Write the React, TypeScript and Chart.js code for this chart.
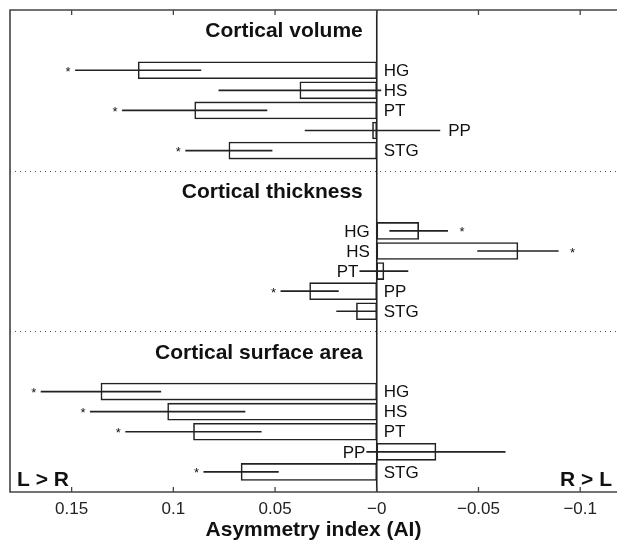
import React, { useEffect, useRef } from 'react';
import { Chart, registerables } from 'chart.js';

Chart.register(...registerables);

const groups = ['Cortical volume', 'Cortical thickness', 'Cortical surface area'];
const regions = ['HG', 'HS', 'PT', 'PP', 'STG'];

const volumeAI = [0.1173, 0.0378, 0.0895, 0.0021, 0.0727];
const volumeErr = [0.031, 0.04, 0.0357, 0.0333, 0.0214];
const volumeSig = [true, false, true, false, true];

const thicknessAI = [-0.0206, -0.0694, -0.0035, 0.033, 0.01];
const thicknessErr = [0.0144, 0.02, 0.012, 0.0143, 0.0099];
const thicknessSig = [true, true, false, true, false];

const surfaceAI = [0.1356, 0.1028, 0.0901, -0.0291, 0.0667];
const surfaceErr = [0.0296, 0.0382, 0.0335, 0.0342, 0.0185];
const surfaceSig = [true, true, true, false, true];

const xTicks = [0.15, 0.1, 0.05, 0, -0.05, -0.1];
const xTickLabels = ['0.15', '0.1', '0.05', '\u22120', '\u22120.05', '\u22120.1'];
const xMin = -0.1181;
const xMax = 0.1803;
const axisTitle = 'Asymmetry index (AI)';
const leftNote = 'L > R';
const rightNote = 'R > L';

const groupValues = [volumeAI, thicknessAI, surfaceAI];
const groupErrs = [volumeErr, thicknessErr, surfaceErr];
const groupSigs = [volumeSig, thicknessSig, surfaceSig];

const FONT = '"Liberation Sans", Arial, Helvetica, sans-serif';
const INK = '#222222';

export default function App() {
  const ref = useRef<HTMLCanvasElement | null>(null);

  useEffect(() => {
    if (!ref.current) return;
    const points: { x: number; y: number }[] = [];
    const meta: { v: number; e: number; sig: boolean; label: string; pos: number }[] = [];
    groupValues.forEach((vals, g) => {
      vals.forEach((v, i) => {
        const pos = g * 8 + 3 + i;
        points.push({ x: v, y: pos });
        meta.push({ v, e: groupErrs[g][i], sig: groupSigs[g][i], label: regions[i], pos });
      });
    });

    const overlay = {
      id: 'overlay',
      afterDatasetsDraw(chart: any) {
        const ctx = chart.ctx as CanvasRenderingContext2D;
        const xs = chart.scales.x;
        const ys = chart.scales.y;
        const ca = chart.chartArea;
        const zero = xs.getPixelForValue(0);
        ctx.save();

        // separators
        ctx.strokeStyle = '#555';
        ctx.lineWidth = 1;
        ctx.setLineDash([1, 4]);
        [8, 16].forEach((p) => {
          const y = Math.round(ys.getPixelForValue(p)) + 0.5;
          ctx.beginPath();
          ctx.moveTo(ca.left, y);
          ctx.lineTo(ca.right, y);
          ctx.stroke();
        });
        ctx.setLineDash([]);

        // zero line
        ctx.strokeStyle = INK;
        ctx.lineWidth = 1.6;
        ctx.beginPath();
        ctx.moveTo(zero, ca.top);
        ctx.lineTo(zero, ca.bottom);
        ctx.stroke();

        // error bars, stars, labels
        meta.forEach((m) => {
          const y = ys.getPixelForValue(m.pos);
          const lo = xs.getPixelForValue(m.v + m.e); // left end (larger value)
          const hi = xs.getPixelForValue(m.v - m.e); // right end
          ctx.strokeStyle = INK;
          ctx.lineWidth = 1.6;
          ctx.beginPath();
          ctx.moveTo(lo, y);
          ctx.lineTo(hi, y);
          ctx.stroke();

          ctx.fillStyle = '#111';
          if (m.sig) {
            ctx.font = `13px ${FONT}`;
            ctx.textAlign = 'center';
            ctx.textBaseline = 'middle';
            const sx = m.v >= 0 ? lo - 7 : hi + 14;
            ctx.fillText('*', sx, y + 2);
          }

          ctx.font = `17px ${FONT}`;
          ctx.textBaseline = 'middle';
          if (m.v >= 0) {
            ctx.textAlign = 'left';
            const end = m.v - m.e;
            const lx = end < -0.004 ? hi + 8 : zero + 7;
            ctx.fillText(m.label, lx, y + 1);
          } else {
            ctx.textAlign = 'right';
            const end = m.v + m.e;
            const lx = end > 0.004 ? lo - 1 : zero - 7;
            ctx.fillText(m.label, lx, y + 1);
          }
        });

        // group titles
        ctx.font = `bold 21px ${FONT}`;
        ctx.textAlign = 'right';
        ctx.textBaseline = 'middle';
        ctx.fillStyle = '#111';
        groups.forEach((t, g) => {
          ctx.fillText(t, zero - 14, ys.getPixelForValue(g * 8 + 1.07));
        });

        // frame
        ctx.strokeStyle = '#444';
        ctx.lineWidth = 1.6;
        ctx.beginPath();
        ctx.moveTo(ca.right, ca.top);
        ctx.lineTo(ca.left, ca.top);
        ctx.lineTo(ca.left, ca.bottom);
        ctx.lineTo(ca.right, ca.bottom);
        ctx.stroke();

        // inward ticks
        ctx.lineWidth = 1.3;
        xTicks.forEach((t) => {
          const px = xs.getPixelForValue(t);
          ctx.beginPath();
          ctx.moveTo(px, ca.top);
          ctx.lineTo(px, ca.top + 5);
          ctx.moveTo(px, ca.bottom);
          ctx.lineTo(px, ca.bottom - 5);
          ctx.stroke();
        });

        // direction notes
        ctx.font = `bold 21px ${FONT}`;
        ctx.textBaseline = 'middle';
        ctx.textAlign = 'left';
        ctx.fillText(leftNote, ca.left + 7, ca.bottom - 12);
        ctx.textAlign = 'right';
        ctx.fillText(rightNote, ca.right - 5, ca.bottom - 12);
        ctx.restore();
      },
    };

    const chart = new Chart(ref.current, {
      type: 'bar',
      data: {
        datasets: [
          {
            data: points,
            backgroundColor: '#ffffff',
            borderColor: INK,
            borderWidth: 1.6,
            borderSkipped: false,
            barThickness: 17,
          } as any,
        ],
      },
      options: {
        indexAxis: 'y',
        animation: false,
        responsive: false,
        layout: { padding: { left: 10, top: 10, right: 0, bottom: 0 } },
        plugins: { legend: { display: false }, tooltip: { enabled: false } },
        scales: {
          y: {
            type: 'linear',
            min: 0,
            max: 24,
            reverse: true,
            offset: false,
            display: false,
          },
          x: {
            type: 'linear',
            min: xMin,
            max: xMax,
            reverse: true,
            offset: false,
            grid: { display: false, drawTicks: false },
            border: { display: false },
            afterBuildTicks: (s: any) => {
              s.ticks = xTicks.map((v) => ({ value: v }));
            },
            afterFit: (s: any) => {
              s.height = 50;
            },
            ticks: {
              autoSkip: false,
              maxRotation: 0,
              padding: 7,
              color: '#222',
              font: { family: FONT, size: 17 },
              callback: (val: any) => {
                const i = xTicks.indexOf(Number(val));
                return i >= 0 ? xTickLabels[i] : '';
              },
            },
            title: {
              display: true,
              text: axisTitle,
              color: '#111',
              font: { family: FONT, size: 21, weight: 'bold', lineHeight: 1 },
              padding: { top: 0, bottom: 1 },
            },
          },
        },
      } as any,
      plugins: [overlay],
    });
    return () => chart.destroy();
  }, []);

  return (
    <div style={{ position: 'absolute', left: 0, top: 0, width: 617, height: 542, background: '#fff' }}>
      <canvas ref={ref} width={617} height={542} style={{ display: 'block' }} />
    </div>
  );
}
